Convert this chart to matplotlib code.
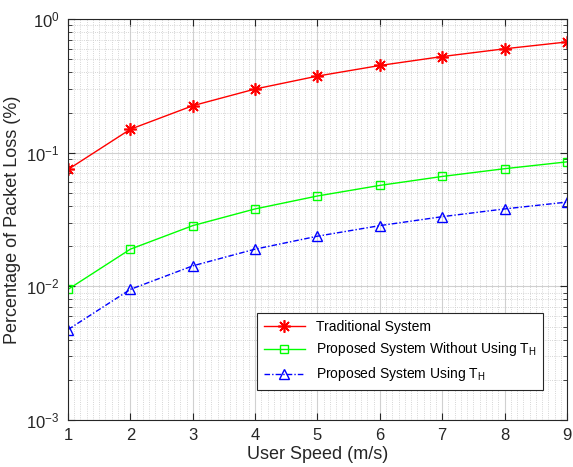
import numpy as np
import matplotlib.pyplot as plt
from matplotlib.ticker import LogLocator, MultipleLocator, NullFormatter

plt.rcParams['font.family'] = ['Liberation Sans', 'DejaVu Sans']
plt.rcParams['mathtext.fontset'] = 'custom'
plt.rcParams['mathtext.rm'] = 'Liberation Sans'
plt.rcParams['mathtext.it'] = 'Liberation Sans'

speed = [1, 2, 3, 4, 5, 6, 7, 8, 9]
traditional = [0.075, 0.15, 0.225, 0.30, 0.375, 0.45, 0.525, 0.60, 0.675]
without_th = [0.0095, 0.019, 0.0285, 0.038, 0.0475, 0.057, 0.0665, 0.076, 0.0855]
using_th = [0.00475, 0.0095, 0.01425, 0.019, 0.02375, 0.0285, 0.03325, 0.038, 0.04275]

fig = plt.figure(figsize=(5.73, 4.67), dpi=100)
ax = fig.add_axes([0.1187, 0.1006, 0.8708, 0.8584])

ax.semilogy(speed, traditional, color='#ff0000', marker=(8, 2, 0), markersize=9,
            markeredgewidth=1.2, linewidth=1, label='Traditional System')
ax.semilogy(speed, without_th, color='#00ff00', marker='s', markersize=6, linewidth=1,
            markerfacecolor='none', label='Proposed System Without Using T$_\\mathrm{H}$')
ax.semilogy(speed, using_th, color='#0000ff', marker='^', markersize=7, linewidth=1,
            linestyle=(0, (4, 1.5, 1, 1.5)), markerfacecolor='none',
            label='Proposed System Using T$_\\mathrm{H}$')

ax.set_xlim(1, 9)
ax.set_ylim(1e-3, 1)
ax.xaxis.set_major_locator(MultipleLocator(1))
ax.xaxis.set_minor_locator(MultipleLocator(0.1))
ax.yaxis.set_major_locator(LogLocator(base=10))
ax.yaxis.set_minor_locator(LogLocator(base=10, subs=np.arange(2, 10)))
ax.yaxis.set_minor_formatter(NullFormatter())

ax.grid(True, which='major', color='#d0d0d0', linewidth=0.8, linestyle='-')
ax.grid(True, which='minor', color='#c8c8c8', linewidth=0.6, linestyle=':')
ax.set_axisbelow(True)

ax.tick_params(which='both', direction='in', top=True, right=True, labelsize=12,
               colors='#262626', pad=6)
ax.tick_params(which='major', length=5)
ax.tick_params(axis='y', which='minor', length=3)
ax.tick_params(axis='x', which='minor', length=0)
for s in ax.spines.values():
    s.set_color('#262626')
    s.set_linewidth(0.8)

ax.set_xlabel('User Speed (m/s)', fontsize=13, color='#262626', labelpad=2)
ax.set_ylabel('Percentage of Packet Loss (%)', fontsize=13, color='#262626')

leg = ax.legend(loc='lower right', bbox_to_anchor=(0.952, 0.074), fontsize=10, fancybox=False,
                edgecolor='#262626', framealpha=1, borderpad=0.5, labelspacing=0.5,
                handlelength=2.9, borderaxespad=0)
leg.get_frame().set_linewidth(0.8)

fig.savefig('out.png', dpi=100)
